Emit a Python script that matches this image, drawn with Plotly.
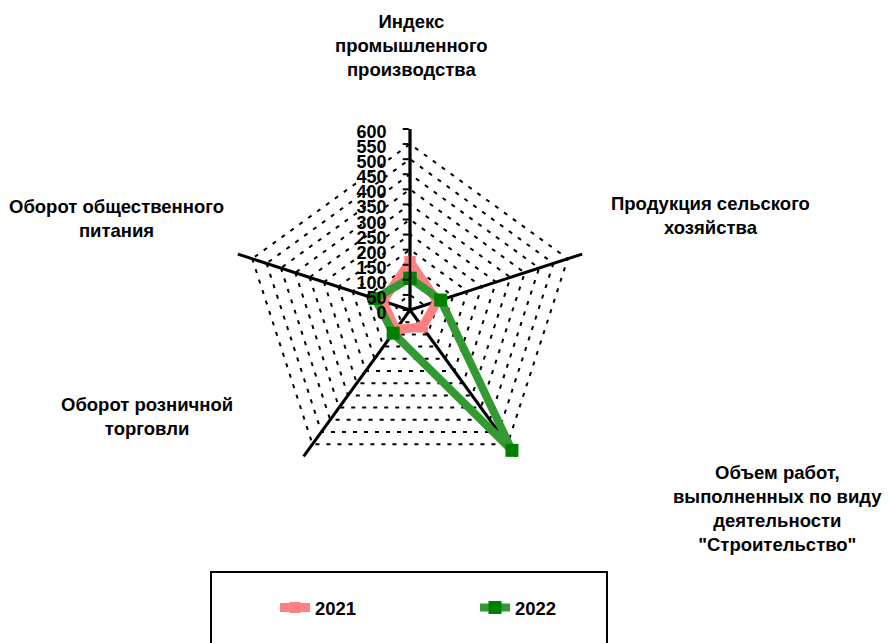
import plotly.graph_objects as go

categories = [
    "Индекс промышленного производства",
    "Продукция сельского хозяйства",
    "Объем работ, выполненных по виду деятельности \"Строительство\"",
    "Оборот розничной торговли",
    "Оборот общественного питания",
]
values_2021 = [160, 95, 70, 80, 95]
values_2022 = [105, 107, 575, 95, 122]
radial_ticks = list(range(0, 601, 50))

W, H = 892, 643
OFF = 8  # page body margin compensation
cx, cy, R = 410 - OFF, 310 - OFF, 181


def px(x):
    return (x - OFF) / W


def py(y):
    return (H - (y - OFF)) / H


fig = go.Figure()
theta = categories + [categories[0]]
fig.add_trace(go.Scatterpolar(
    r=values_2021 + [values_2021[0]], theta=theta, name="2021",
    mode="lines+markers",
    line=dict(color="#FF8080", width=9),
    marker=dict(symbol="square", size=11, color="#FF8080"),
))
fig.add_trace(go.Scatterpolar(
    r=values_2022 + [values_2022[0]], theta=theta, name="2022",
    mode="lines+markers",
    line=dict(color="#339933", width=8),
    marker=dict(symbol="square", size=13, color="#008000"),
))

font_family = "Liberation Sans, Arial, sans-serif"
fig.update_layout(
    width=W, height=H,
    margin=dict(l=0, r=0, t=0, b=0),
    paper_bgcolor="white",
    font=dict(family=font_family, color="black"),
    polar=dict(
        domain=dict(x=[(cx - R) / W, (cx + R) / W],
                    y=[(H - cy - R) / H, (H - cy + R) / H]),
        bgcolor="white",
        gridshape="linear",
        radialaxis=dict(
            range=[0, 600], tickvals=radial_ticks,
            angle=90, side="counterclockwise",
            showline=True, linecolor="black", linewidth=2.5,
            ticks="outside", ticklen=6, tickcolor="black", tickwidth=2,
            tickfont=dict(size=18, family=font_family, weight="bold"),
            showgrid=True, gridcolor="black", gridwidth=2, griddash="4px,7px",
        ),
        angularaxis=dict(
            rotation=90, direction="clockwise",
            showticklabels=False, ticks="",
            showline=False,
            showgrid=True, gridcolor="black", gridwidth=2.5,
        ),
    ),
    showlegend=True,
    legend=dict(
        orientation="h", x=px(275), y=py(608), xanchor="left", yanchor="middle",
        bgcolor="rgba(0,0,0,0)", borderwidth=0,
        font=dict(size=18.5, family=font_family, weight="bold"),
        entrywidth=155, entrywidthmode="pixels",
    ),
    shapes=[dict(type="rect", xref="paper", yref="paper",
                 x0=px(211), x1=px(607), y0=-0.05, y1=py(572),
                 line=dict(color="black", width=2), fillcolor="rgba(0,0,0,0)")],
)

labels = [
    ("Индекс<br>промышленного<br>производства", 411, 46),
    ("Продукция сельского<br>хозяйства", 710, 215),
    ("Объем работ,<br>выполненных по виду<br>деятельности<br>\"Строительство\"", 777, 508),
    ("Оборот розничной<br>торговли", 147, 417),
    ("Оборот общественного<br>питания", 116, 218),
]
for text, x, y in labels:
    fig.add_annotation(
        text=text, x=px(x), y=py(y), xref="paper", yref="paper",
        xanchor="center", yanchor="middle", showarrow=False, align="center",
        font=dict(size=18.5, family=font_family, weight="bold", color="black"),
    )

fig.write_html("out.html")
